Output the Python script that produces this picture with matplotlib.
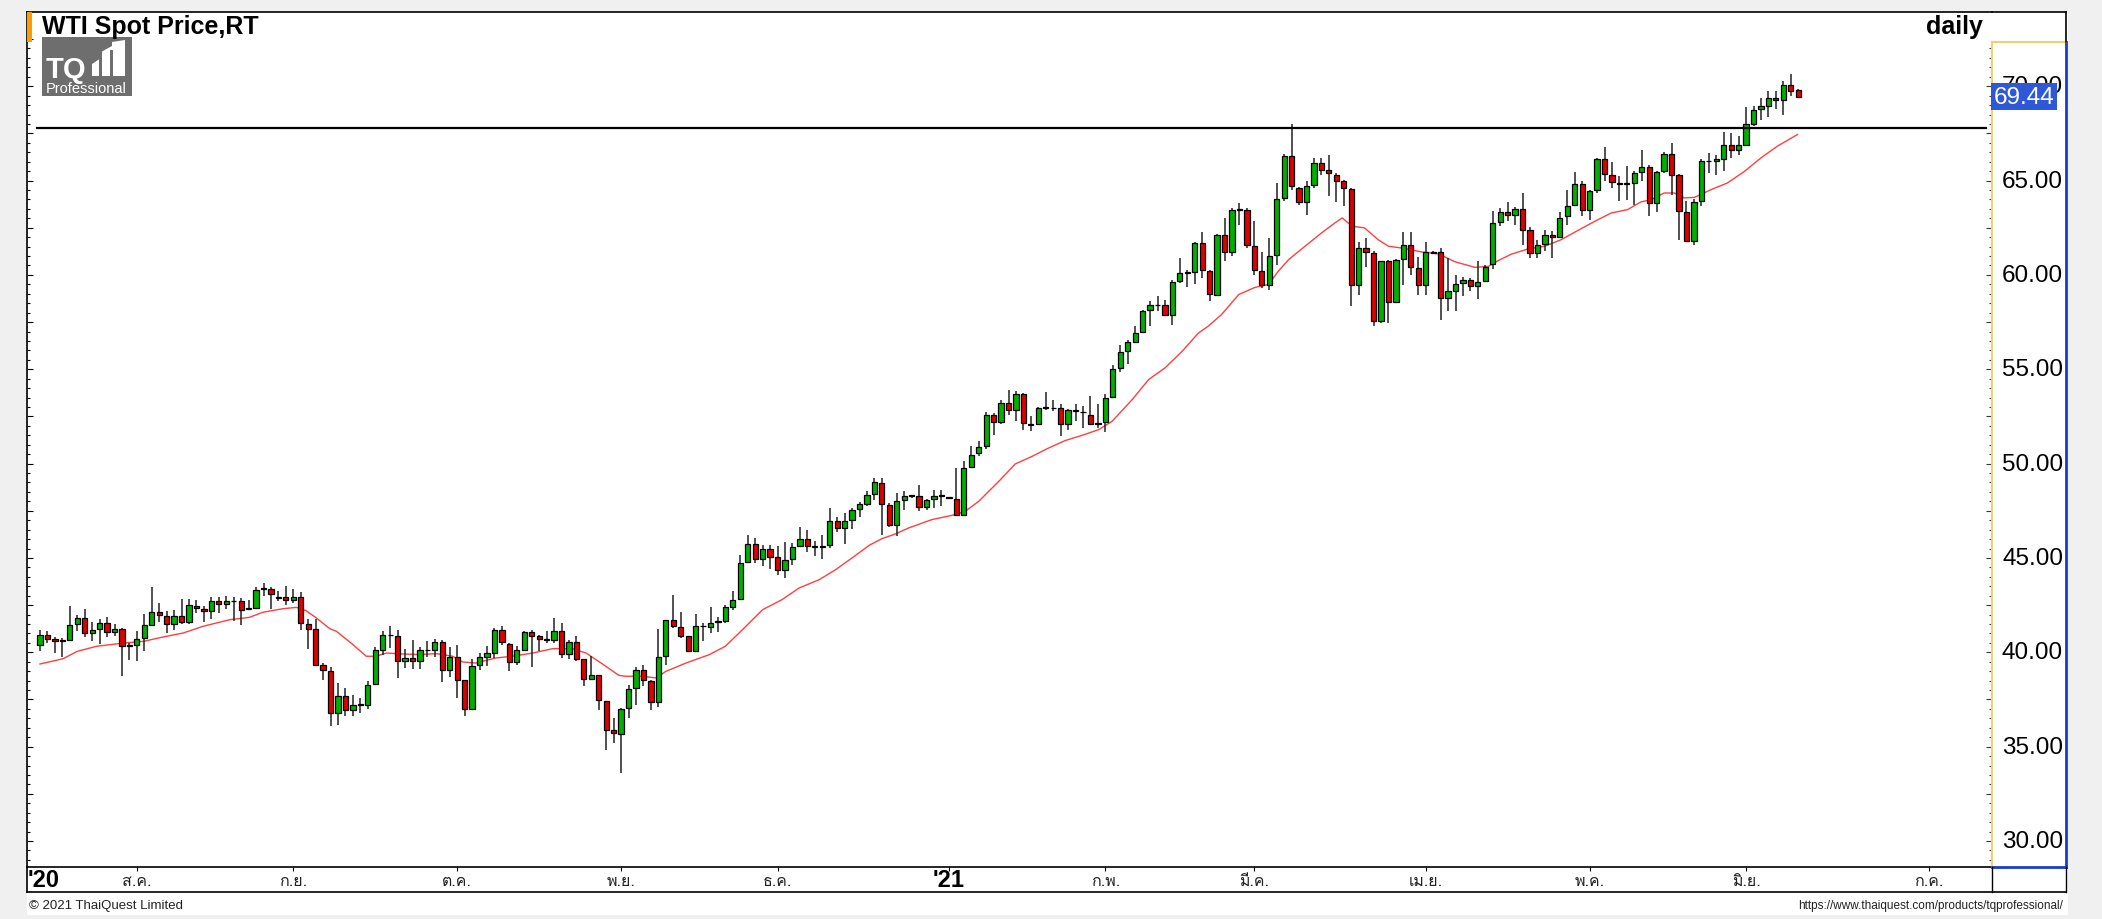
import matplotlib
matplotlib.use("Agg")
import matplotlib.pyplot as plt
import matplotlib.transforms as mtransforms
from matplotlib.patches import Rectangle, Polygon
from matplotlib.lines import Line2D
from matplotlib import font_manager as fm
from matplotlib.ticker import MultipleLocator
import numpy as np

# ---------------- data ----------------
opens = [
    40.41, 40.94, 40.70, 40.62, 40.67, 41.50, 41.80, 41.04, 41.24, 41.56,
    41.10, 41.25, 40.36, 40.41, 40.76, 41.47, 42.14, 41.91, 41.50, 41.91,
    41.60, 42.47, 42.30, 42.17, 42.74, 42.54, 42.70, 42.70, 42.30, 42.35,
    43.37, 43.37, 42.88, 42.91, 42.77, 42.91, 41.50, 41.24, 39.35, 39.03,
    36.78, 37.70, 36.96, 37.23, 37.23, 38.32, 40.14, 40.90, 40.85, 39.52,
    39.70, 39.52, 40.10, 40.11, 40.55, 39.08, 39.75, 38.52, 37.01, 39.31,
    39.75, 39.96, 41.20, 40.46, 39.49, 40.14, 41.06, 40.85, 40.67, 40.67,
    41.15, 39.93, 40.55, 39.65, 38.60, 38.78, 37.44, 35.87, 35.69, 37.05,
    38.11, 39.08, 38.46, 37.35, 39.79, 41.70, 41.32, 40.85, 40.09, 41.38,
    41.32, 41.62, 41.68, 42.40, 42.83, 44.79, 45.76, 44.96, 45.48, 45.03,
    44.38, 44.96, 45.62, 46.02, 45.60, 45.60, 45.67, 46.94, 46.59, 47.03,
    47.60, 47.88, 48.39, 48.97, 47.79, 46.77, 48.06, 48.27, 48.27, 47.68,
    48.14, 48.27, 48.18, 48.14, 47.30, 49.82, 50.56, 50.92, 52.60, 52.19,
    53.21, 52.86, 53.69, 52.07, 52.10, 52.95, 52.95, 52.95, 52.10, 52.86,
    52.72, 52.60, 52.12, 52.21, 53.51, 55.07, 55.95, 56.45, 56.98, 58.13,
    58.39, 58.39, 57.90, 59.66, 60.10, 60.16, 61.69, 60.23, 58.96, 62.14,
    61.22, 63.46, 63.46, 61.52, 60.19, 59.49, 61.08, 64.08, 66.29, 64.61,
    63.87, 64.75, 65.93, 65.55, 65.32, 64.96, 64.56, 59.49, 61.43, 61.16,
    57.54, 60.72, 58.55, 60.86, 61.61, 60.37, 59.45, 61.20, 61.22, 58.78,
    59.17, 59.55, 59.71, 59.40, 59.66, 60.60, 62.79, 63.34, 63.16, 63.50,
    62.36, 61.16, 61.66, 62.10, 61.99, 63.11, 63.69, 64.84, 63.46, 64.52,
    66.15, 65.32, 64.82, 64.82, 64.87, 65.44, 65.70, 63.81, 65.49, 66.41,
    65.28, 63.34, 61.82, 63.90, 66.02, 66.02, 66.15, 66.87, 66.64, 66.91,
    68.00, 68.81, 68.94, 69.38, 69.26, 70.05, 69.82,
]
highs = [
    41.20, 41.11, 40.81, 40.76, 42.44, 41.96, 42.30, 41.59, 41.77, 41.85,
    41.50, 41.29, 40.50, 41.15, 42.03, 43.44, 42.61, 42.17, 42.23, 42.84,
    42.84, 42.76, 42.47, 42.91, 42.91, 42.97, 42.91, 42.88, 42.79, 43.44,
    43.67, 43.44, 43.23, 43.50, 43.36, 43.18, 41.77, 41.77, 39.43, 39.22,
    38.37, 38.11, 37.72, 37.58, 38.46, 40.26, 41.15, 41.41, 41.20, 40.18,
    40.64, 40.26, 40.62, 40.72, 40.67, 40.26, 40.37, 38.52, 39.65, 39.96,
    40.32, 41.29, 41.41, 40.50, 40.32, 41.11, 41.20, 40.94, 41.15, 41.82,
    41.55, 40.67, 40.85, 39.65, 39.79, 38.78, 37.44, 36.52, 37.05, 38.28,
    39.20, 39.31, 38.55, 41.25, 41.73, 43.02, 42.14, 40.85, 42.03, 41.55,
    42.38, 41.85, 42.53, 43.27, 45.14, 46.20, 46.06, 45.71, 45.67, 45.62,
    45.84, 45.79, 46.62, 46.48, 45.88, 46.20, 47.65, 47.15, 47.38, 47.65,
    47.97, 48.53, 49.24, 49.24, 47.91, 48.44, 48.53, 48.35, 48.88, 48.14,
    48.62, 48.62, 48.22, 49.77, 50.12, 50.92, 51.22, 52.74, 52.68, 53.39,
    53.88, 53.86, 53.74, 52.51, 53.00, 53.80, 53.39, 53.16, 52.91, 53.18,
    53.04, 53.57, 53.16, 53.69, 55.21, 56.31, 56.57, 57.28, 58.16, 58.60,
    58.87, 58.69, 59.75, 60.90, 60.28, 61.75, 62.28, 60.28, 62.17, 63.02,
    63.55, 63.81, 63.55, 62.88, 61.22, 61.96, 64.87, 66.41, 67.98, 64.66,
    64.96, 66.20, 66.20, 66.38, 65.40, 65.05, 64.61, 61.73, 61.96, 61.29,
    60.76, 60.81, 60.85, 62.28, 62.28, 60.93, 61.75, 61.26, 61.40, 60.90,
    60.02, 59.87, 59.84, 60.72, 60.55, 63.41, 63.55, 63.87, 63.60, 64.34,
    62.52, 61.87, 62.40, 62.35, 63.32, 64.52, 65.46, 64.96, 64.52, 66.20,
    66.76, 65.97, 65.23, 65.76, 65.49, 66.64, 65.81, 65.49, 66.50, 66.99,
    65.35, 63.94, 64.00, 66.16, 66.46, 66.38, 67.58, 67.52, 67.35, 68.88,
    68.94, 69.38, 69.73, 69.77, 70.26, 70.65, 69.86,
]
lows = [
    40.05, 40.50, 39.96, 39.75, 40.67, 41.15, 40.80, 40.62, 40.44, 40.80,
    40.85, 38.76, 39.60, 39.52, 40.09, 41.47, 41.59, 41.02, 41.20, 41.50,
    41.50, 42.08, 41.59, 41.78, 42.08, 42.31, 41.64, 41.43, 42.23, 42.35,
    43.00, 42.31, 42.70, 42.53, 42.61, 41.20, 40.20, 39.35, 38.55, 36.08,
    36.13, 36.61, 36.64, 36.78, 37.01, 38.29, 39.88, 40.23, 38.64, 39.17,
    39.13, 39.12, 39.73, 39.73, 38.41, 38.67, 37.58, 36.61, 37.01, 39.05,
    39.26, 39.70, 40.37, 39.00, 39.31, 40.05, 39.20, 40.05, 40.50, 40.50,
    39.70, 39.66, 39.52, 38.20, 38.55, 36.96, 34.84, 35.19, 33.60, 36.52,
    37.19, 38.20, 36.96, 37.08, 39.34, 41.29, 40.76, 40.02, 40.09, 40.58,
    41.02, 41.08, 41.55, 42.26, 42.83, 44.73, 44.73, 44.56, 44.42, 44.12,
    43.94, 44.65, 45.56, 45.32, 45.09, 44.96, 45.53, 46.38, 45.74, 46.55,
    47.15, 47.77, 48.09, 46.24, 46.62, 46.15, 47.53, 48.18, 47.47, 47.56,
    47.65, 47.74, 48.14, 47.21, 47.21, 49.77, 50.39, 50.78, 51.53, 52.10,
    52.60, 52.24, 51.80, 51.75, 52.07, 52.83, 52.77, 51.45, 51.80, 52.28,
    51.89, 52.07, 51.89, 51.68, 53.48, 54.86, 55.28, 56.39, 56.98, 57.28,
    58.07, 57.81, 57.37, 59.57, 59.35, 59.52, 59.84, 58.60, 58.92, 60.72,
    60.99, 62.67, 61.40, 60.02, 59.31, 59.22, 60.55, 63.94, 64.52, 63.69,
    63.16, 64.61, 65.32, 64.17, 63.87, 63.64, 58.34, 58.96, 60.41, 57.28,
    57.45, 57.45, 58.51, 59.45, 60.02, 58.92, 58.96, 61.12, 57.63, 58.10,
    58.10, 58.87, 59.13, 58.74, 59.63, 60.31, 62.58, 62.84, 62.67, 61.57,
    60.90, 60.90, 61.29, 60.90, 61.96, 62.67, 63.64, 63.11, 62.93, 64.34,
    65.00, 64.61, 63.94, 63.99, 63.73, 65.00, 63.11, 63.34, 65.40, 64.22,
    61.87, 61.78, 61.57, 63.64, 65.40, 65.28, 65.49, 66.20, 66.38, 66.87,
    67.88, 68.23, 68.35, 68.81, 68.46, 69.47, 69.38,
]
closes = [
    40.94, 40.72, 40.58, 40.60, 41.43, 41.80, 41.02, 41.20, 41.56, 41.08,
    41.25, 40.32, 40.35, 40.72, 41.43, 42.12, 41.96, 41.52, 41.91, 41.60,
    42.49, 42.33, 42.17, 42.74, 42.56, 42.70, 42.72, 42.26, 42.33, 43.29,
    43.37, 43.10, 42.88, 42.77, 42.91, 41.55, 41.24, 39.35, 39.05, 36.78,
    37.70, 36.96, 37.23, 37.25, 38.29, 40.14, 40.90, 40.92, 39.52, 39.70,
    39.52, 40.11, 40.11, 40.53, 39.08, 39.75, 38.55, 37.01, 39.29, 39.75,
    39.96, 41.20, 40.53, 39.49, 40.11, 41.06, 40.88, 40.72, 40.67, 41.15,
    39.93, 40.53, 39.66, 38.60, 38.78, 37.46, 35.90, 35.71, 37.01, 38.06,
    39.08, 38.51, 37.35, 39.75, 41.70, 41.38, 40.88, 40.09, 41.41, 41.40,
    41.55, 41.64, 42.38, 42.79, 44.73, 45.76, 44.96, 45.48, 45.05, 44.38,
    44.91, 45.56, 46.02, 45.62, 45.58, 45.62, 46.94, 46.59, 46.98, 47.56,
    47.86, 48.32, 49.01, 47.86, 46.77, 48.00, 48.27, 48.27, 47.68, 48.05,
    48.27, 48.29, 48.18, 47.30, 49.77, 50.47, 50.88, 52.60, 52.19, 53.21,
    52.86, 53.69, 52.15, 52.07, 52.95, 52.95, 52.93, 52.10, 52.86, 52.77,
    52.72, 52.10, 52.12, 53.48, 55.03, 55.90, 56.43, 56.92, 58.07, 58.39,
    58.39, 57.90, 59.61, 60.10, 60.12, 61.69, 60.28, 58.99, 62.14, 61.22,
    63.46, 63.46, 61.57, 60.28, 59.45, 61.02, 64.03, 66.29, 64.70, 63.87,
    64.70, 65.93, 65.58, 65.40, 65.00, 64.61, 59.49, 61.43, 61.22, 57.54,
    60.76, 58.57, 60.81, 61.61, 60.40, 59.45, 61.22, 61.18, 58.78, 59.17,
    59.52, 59.71, 59.40, 59.63, 60.40, 62.75, 63.34, 63.16, 63.50, 62.40,
    61.16, 61.60, 62.10, 61.99, 63.02, 63.64, 64.84, 63.46, 64.47, 66.15,
    65.35, 64.91, 64.82, 64.84, 65.40, 65.70, 63.81, 65.44, 66.41, 65.28,
    63.37, 61.82, 63.85, 66.02, 66.04, 66.15, 66.87, 66.64, 66.91, 68.00,
    68.76, 68.94, 69.38, 69.26, 70.05, 69.77, 69.44,
]

# moving average line (x = candle index)
ma_x = [0, 3.1, 5, 7.6, 11.2, 13.9, 16.5, 19.2, 21.9, 25.5, 28.1, 29.9, 32.6, 34.4,
        35.7, 37.1, 38.9, 39.8, 42.0, 43.8, 45.1, 46.5, 48.7, 50.9, 53.2, 55.4, 56.7,
        58.5, 61.2, 63.4, 66.1, 68.8, 71.5, 73.3, 75.5, 77.7, 78.6, 80.9, 82.7, 84.0,
        86.7, 89.8, 92.0, 94.3, 97.0, 99.6, 101.9, 104.6, 106.8, 109.0, 111.3, 113.0,
        114.8, 116.6, 119.7, 122.9, 124.2, 126.0, 128.7, 130.9, 133.2, 135.4, 137.6,
        139.9, 142.1, 143.9, 146.6, 148.8, 151.0, 153.3, 155.5, 156.8, 158.6, 160.9,
        163.1, 164.9, 166.2, 167.6, 169.8, 172.0, 173.8, 174.8, 176.1, 177.8, 179.6,
        181.0, 183.2, 185.4, 187.7, 189.9, 192.6, 194.4, 195.7, 197.5, 199.7, 202.0,
        204.2, 206.4, 208.7, 210.9, 213.1, 214.9, 216.3, 218.0, 219.4, 220.7, 222.1,
        224.3, 226.5, 228.8, 231.0, 233.2, 235.9]
ma_y = [39.38, 39.66, 40.05, 40.32, 40.49, 40.58, 40.81, 41.02, 41.38, 41.73, 41.85,
        42.12, 42.31, 42.38, 42.21, 41.82, 41.25, 41.11, 40.41, 39.79, 39.79, 39.96,
        39.91, 39.88, 39.93, 39.79, 39.49, 39.43, 39.70, 39.79, 39.96, 40.19, 40.19,
        39.96, 39.38, 38.78, 38.73, 38.73, 38.64, 38.99, 39.43, 39.87, 40.32, 41.20,
        42.26, 42.79, 43.41, 43.85, 44.38, 45.00, 45.67, 46.02, 46.27, 46.59, 47.03,
        47.30, 47.47, 48.00, 49.06, 49.98, 50.39, 50.83, 51.22, 51.50, 51.80, 52.24,
        53.39, 54.45, 55.07, 55.95, 56.92, 57.28, 57.90, 58.96, 59.34, 59.49, 60.19,
        60.81, 61.52, 62.22, 62.75, 63.02, 62.58, 62.49, 61.87, 61.52, 61.40, 61.22,
        61.12, 60.70, 60.40, 60.45, 60.75, 61.10, 61.37, 61.52, 61.87, 62.35, 62.84,
        63.28, 63.46, 63.87, 63.99, 64.34, 64.34, 64.08, 64.11, 64.52, 64.87, 65.49,
        66.20, 66.82, 67.44]

resistance_level = 67.8
last_price = 69.44
y_major_labels = [30, 35, 40, 45, 50, 55, 60, 65, 70]
month_labels = ["ส.ค.", "ก.ย.", "ต.ค.", "พ.ย.", "ธ.ค.", "'21",
                "ก.พ.", "มี.ค.", "เม.ย.", "พ.ค.", "มิ.ย.", "ก.ค."]
month_pos = [13, 34, 56, 78, 99, 122, 143, 163, 186, 208, 229, 253.5]
year_start_label = "'20"
title_text = "WTI Spot Price,RT"
period_text = "daily"

# ---------------- fonts ----------------
avail = {f.name for f in fm.fontManager.ttflist}
def pick(*names):
    for n in names:
        if n in avail:
            return n
    return "DejaVu Sans"
SANS = pick("Liberation Sans", "Arial", "DejaVu Sans")
NARROW = pick("Liberation Sans Narrow", "Liberation Sans", "DejaVu Sans")

def find_thai():
    from matplotlib.ft2font import FT2Font
    names = []
    for f in fm.fontManager.ttflist:
        try:
            if 0x0E2A in FT2Font(f.fname).get_charmap():
                if f.name not in names:
                    names.append(f.name)
        except Exception:
            pass
    return names
thai_fonts = find_thai()
THAI_FAM = ([thai_fonts[0]] if thai_fonts else []) + [SANS, "DejaVu Sans"]

# ---------------- layout (pixels) ----------------
W, H, DPI = 2102, 920, 100
fig = plt.figure(figsize=(W / DPI, H / DPI), dpi=DPI, facecolor="#f0f0f0")

def fx(x): return x / W
def fy(y): return 1 - y / H
def frect(x0, y0, x1, y1, **kw):
    r = Rectangle((fx(x0), fy(y1)), (x1 - x0) / W, (y1 - y0) / H,
                  transform=fig.transFigure, **kw)
    fig.add_artist(r)
def fline(x0, y0, x1, y1, **kw):
    fig.add_artist(Line2D([fx(x0), fx(x1)], [fy(y0), fy(y1)],
                          transform=fig.transFigure, **kw))

PL, PR, PT, PB = 27, 1992, 13, 868      # main plot box
AX_T = 43                               # price-axis panel top
X0, DX = 40.0, 7.45                     # first candle px, px per candle
Y30, PPU = 842.0, 18.87                 # px of 30.00, px per unit

# white chart panel
frect(PL, PT, 2068, 916, facecolor="white", edgecolor="none", zorder=-5)

ax = fig.add_axes([fx(PL), fy(PB), (PR - PL) / W, (PB - PT) / H])
ax.set_facecolor("white")
ax.set_xlim((PL - X0) / DX, (PR - X0) / DX)
ax.set_ylim(30 - (PB - Y30) / PPU, 30 + (Y30 - PT) / PPU)

n = len(closes)
idx = np.arange(n)
o = np.array(opens); h = np.array(highs); l = np.array(lows); c = np.array(closes)
up = c >= o
GREEN, RED = "#00b000", "#e00000"

ax.plot(ma_x, ma_y, color="#ff2a2a", lw=1.0, alpha=0.9, zorder=1.5)
ax.vlines(idx, l, h, color="#222222", lw=1.1, zorder=2)
body_lo = np.minimum(o, c)
body_h = np.maximum(np.abs(c - o), 0.04)
ax.bar(idx, body_h, bottom=body_lo, width=0.7,
       color=np.where(up, GREEN, RED), edgecolor="black", linewidth=0.9, zorder=3)

ax.axhline(resistance_level, xmin=0.005, xmax=0.997, color="black", lw=1.6, zorder=4)

for s in ["left", "top", "bottom"]:
    ax.spines[s].set_color("black")
    ax.spines[s].set_linewidth(1.2)
ax.spines["right"].set_visible(False)
ax.yaxis.set_major_locator(MultipleLocator(2.5))
ax.yaxis.set_minor_locator(MultipleLocator(0.5))
ax.tick_params(axis="y", which="major", direction="in", length=4.5, width=0.8,
               left=True, right=False, labelleft=False)
ax.tick_params(axis="y", which="minor", direction="in", length=2.5, width=0.8,
               left=True, right=False)
ax.set_xticks(month_pos)
ax.set_xticklabels([])
ax.tick_params(axis="x", which="major", direction="out", length=3, width=0.8,
               bottom=True, top=False, labelbottom=False)

# month labels in the date row
trans = mtransforms.blended_transform_factory(ax.transData, fig.transFigure)
for pos, lab in zip(month_pos, month_labels):
    if lab.startswith("'"):
        ax.text(pos, fy(881), lab, transform=trans, ha="center", va="center",
                fontsize=17, fontweight="bold", family=NARROW, clip_on=False)
    else:
        ax.text(pos, fy(882), lab, transform=trans, ha="center", va="center",
                fontsize=11.5, family=THAI_FAM, color="#222222", clip_on=False)
fig.text(fx(28), fy(881), year_start_label, ha="left", va="center",
         fontsize=17, fontweight="bold", family=NARROW)

# price axis panel
axr = fig.add_axes([fx(PR), fy(PB), (2066 - PR) / W, (PB - AX_T) / H])
axr.set_facecolor("white")
axr.set_xlim(0, 1)
axr.set_ylim(30 - (PB - Y30) / PPU, 30 + (Y30 - AX_T) / PPU)
axr.set_xticks([])
axr.yaxis.set_major_locator(MultipleLocator(2.5))
axr.yaxis.set_minor_locator(MultipleLocator(0.5))
axr.tick_params(axis="y", which="major", direction="out", length=4.5, width=0.8,
                left=True, right=False, labelleft=False, color="#333333")
axr.tick_params(axis="y", which="minor", direction="out", length=2.5, width=0.8,
                left=True, right=False, color="#333333")
axr.spines["left"].set_color("#f0d070"); axr.spines["left"].set_linewidth(1.5)
axr.spines["top"].set_color("#f0d070"); axr.spines["top"].set_linewidth(1.5)
axr.spines["right"].set_color("#1a3ccc"); axr.spines["right"].set_linewidth(2)
axr.spines["bottom"].set_color("#1a3ccc"); axr.spines["bottom"].set_linewidth(2)
tr_r = mtransforms.blended_transform_factory(axr.transAxes, axr.transData)
for v in y_major_labels:
    axr.text(0.96, v, f"{v:.2f}", transform=tr_r, ha="right", va="center",
             fontsize=17.5, family=SANS, color="black")
axr.text(0.02, last_price, f"{last_price:.2f}", transform=tr_r, ha="left",
         va="center", fontsize=17.5, family=SANS, color="white", zorder=5,
         bbox=dict(boxstyle="square,pad=0.1", facecolor="#2f58d8", edgecolor="none"))

# frame lines
fline(PL, PB, PL, 893, color="black", lw=1.2)
fline(PR, PT, 2066, PT, color="black", lw=1.2)
fline(2066, PT, 2066, AX_T, color="black", lw=1.2)
fline(PL, 893, 2066, 893, color="black", lw=1.2)
fline(PR, PB, PR, 893, color="black", lw=1.0)
fline(2066, PB, 2066, 893, color="black", lw=1.0)

# header
frect(27, 13, 32, 43, facecolor="#ff9a00", edgecolor="none", zorder=6)
fig.text(fx(42), fy(34), title_text, ha="left", va="baseline", fontsize=18,
         fontweight="bold", family=SANS, zorder=8)
fig.text(fx(1983), fy(34), period_text, ha="right", va="baseline", fontsize=18,
         fontweight="bold", family=SANS, zorder=8)

# logo
frect(42, 38, 132, 97, facecolor="#6e6e6e", edgecolor="none", zorder=6)
fig.text(fx(46), fy(78), "TQ", ha="left", va="baseline", fontsize=21,
         fontweight="bold", family=SANS, color="white", zorder=7)
logo_bars = Polygon([[fx(92), fy(77)], [fx(92), fy(65)], [fx(101), fy(59)],
                     [fx(101), fy(53)], [fx(112), fy(47)], [fx(112), fy(43)],
                     [fx(125), fy(41)], [fx(125), fy(77)]],
                    closed=True, transform=fig.transFigure, facecolor="white",
                    edgecolor="none", zorder=7)
fig.add_artist(logo_bars)
for (bx0, bx1) in [(99, 102), (110, 113)]:
    frect(bx0, 51, bx1, 78, facecolor="#6e6e6e", edgecolor="none", zorder=8)
fig.text(fx(46), fy(93), "Professional", ha="left", va="baseline", fontsize=10.5,
         family=SANS, color="white", zorder=7)

# footer
fig.text(fx(29), fy(906), "© 2021 ThaiQuest Limited", ha="left", va="center",
         fontsize=9.5, family=NARROW, color="#222222")
fig.text(fx(2063), fy(906), "https://www.thaiquest.com/products/tqprofessional/",
         ha="right", va="center", fontsize=8.5, family=NARROW, color="#222222")

fig.savefig("out.png", dpi=DPI, facecolor=fig.get_facecolor())
